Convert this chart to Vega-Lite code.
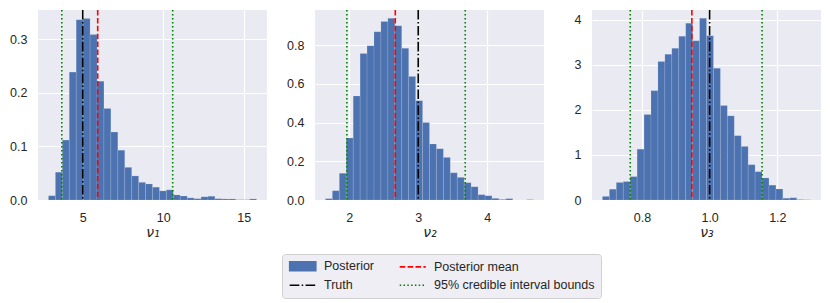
{
  "$schema": "https://vega.github.io/schema/vega-lite/v6.json",
  "padding": {"left": 8, "top": 9, "right": 4, "bottom": 4},
  "background": "white",
  "datasets": {
    "hist": [
      {"panel": 1, "lo": 2.870, "hi": 3.301, "density": 0.008},
      {"panel": 1, "lo": 3.301, "hi": 3.732, "density": 0.052},
      {"panel": 1, "lo": 3.732, "hi": 4.163, "density": 0.112},
      {"panel": 1, "lo": 4.163, "hi": 4.594, "density": 0.239},
      {"panel": 1, "lo": 4.594, "hi": 5.025, "density": 0.337},
      {"panel": 1, "lo": 5.025, "hi": 5.456, "density": 0.339},
      {"panel": 1, "lo": 5.456, "hi": 5.887, "density": 0.309},
      {"panel": 1, "lo": 5.887, "hi": 6.318, "density": 0.222},
      {"panel": 1, "lo": 6.318, "hi": 6.749, "density": 0.171},
      {"panel": 1, "lo": 6.749, "hi": 7.180, "density": 0.127},
      {"panel": 1, "lo": 7.180, "hi": 7.611, "density": 0.093},
      {"panel": 1, "lo": 7.611, "hi": 8.042, "density": 0.061},
      {"panel": 1, "lo": 8.042, "hi": 8.473, "density": 0.045},
      {"panel": 1, "lo": 8.473, "hi": 8.904, "density": 0.033},
      {"panel": 1, "lo": 8.904, "hi": 9.335, "density": 0.030},
      {"panel": 1, "lo": 9.335, "hi": 9.766, "density": 0.024},
      {"panel": 1, "lo": 9.766, "hi": 10.197, "density": 0.017},
      {"panel": 1, "lo": 10.197, "hi": 10.628, "density": 0.019},
      {"panel": 1, "lo": 10.628, "hi": 11.059, "density": 0.0095},
      {"panel": 1, "lo": 11.059, "hi": 11.490, "density": 0.0075},
      {"panel": 1, "lo": 11.490, "hi": 11.921, "density": 0.004},
      {"panel": 1, "lo": 11.921, "hi": 12.352, "density": 0.0025},
      {"panel": 1, "lo": 12.352, "hi": 12.783, "density": 0.006},
      {"panel": 1, "lo": 12.783, "hi": 13.214, "density": 0.007},
      {"panel": 1, "lo": 13.214, "hi": 13.645, "density": 0.0025},
      {"panel": 1, "lo": 13.645, "hi": 14.076, "density": 0.002},
      {"panel": 1, "lo": 14.076, "hi": 14.507, "density": 0.002},
      {"panel": 1, "lo": 14.507, "hi": 14.938, "density": 0.0005},
      {"panel": 1, "lo": 14.938, "hi": 15.369, "density": 0.0005},
      {"panel": 1, "lo": 15.369, "hi": 15.800, "density": 0.002},
      {"panel": 2, "lo": 1.657, "hi": 1.757, "density": 0.007},
      {"panel": 2, "lo": 1.757, "hi": 1.858, "density": 0.048},
      {"panel": 2, "lo": 1.858, "hi": 1.958, "density": 0.138},
      {"panel": 2, "lo": 1.958, "hi": 2.059, "density": 0.320},
      {"panel": 2, "lo": 2.059, "hi": 2.159, "density": 0.537},
      {"panel": 2, "lo": 2.159, "hi": 2.259, "density": 0.757},
      {"panel": 2, "lo": 2.259, "hi": 2.360, "density": 0.797},
      {"panel": 2, "lo": 2.360, "hi": 2.460, "density": 0.869},
      {"panel": 2, "lo": 2.460, "hi": 2.561, "density": 0.922},
      {"panel": 2, "lo": 2.561, "hi": 2.661, "density": 0.938},
      {"panel": 2, "lo": 2.661, "hi": 2.761, "density": 0.900},
      {"panel": 2, "lo": 2.761, "hi": 2.862, "density": 0.783},
      {"panel": 2, "lo": 2.862, "hi": 2.962, "density": 0.638},
      {"panel": 2, "lo": 2.962, "hi": 3.063, "density": 0.513},
      {"panel": 2, "lo": 3.063, "hi": 3.163, "density": 0.400},
      {"panel": 2, "lo": 3.163, "hi": 3.263, "density": 0.289},
      {"panel": 2, "lo": 3.263, "hi": 3.364, "density": 0.265},
      {"panel": 2, "lo": 3.364, "hi": 3.464, "density": 0.220},
      {"panel": 2, "lo": 3.464, "hi": 3.565, "density": 0.141},
      {"panel": 2, "lo": 3.565, "hi": 3.665, "density": 0.117},
      {"panel": 2, "lo": 3.665, "hi": 3.765, "density": 0.0895},
      {"panel": 2, "lo": 3.765, "hi": 3.866, "density": 0.069},
      {"panel": 2, "lo": 3.866, "hi": 3.966, "density": 0.0275},
      {"panel": 2, "lo": 3.966, "hi": 4.067, "density": 0.022},
      {"panel": 2, "lo": 4.067, "hi": 4.167, "density": 0.0086},
      {"panel": 2, "lo": 4.167, "hi": 4.267, "density": 0.003},
      {"panel": 2, "lo": 4.267, "hi": 4.368, "density": 0.007},
      {"panel": 2, "lo": 4.368, "hi": 4.468, "density": 0},
      {"panel": 2, "lo": 4.468, "hi": 4.569, "density": 0},
      {"panel": 2, "lo": 4.569, "hi": 4.669, "density": 0.002},
      {"panel": 3, "lo": 0.6833, "hi": 0.7038, "density": 0.08},
      {"panel": 3, "lo": 0.7038, "hi": 0.7243, "density": 0.24},
      {"panel": 3, "lo": 0.7243, "hi": 0.7448, "density": 0.39},
      {"panel": 3, "lo": 0.7448, "hi": 0.7653, "density": 0.41},
      {"panel": 3, "lo": 0.7653, "hi": 0.7858, "density": 0.52},
      {"panel": 3, "lo": 0.7858, "hi": 0.8063, "density": 1.13},
      {"panel": 3, "lo": 0.8063, "hi": 0.8268, "density": 1.90},
      {"panel": 3, "lo": 0.8268, "hi": 0.8473, "density": 2.43},
      {"panel": 3, "lo": 0.8473, "hi": 0.8678, "density": 3.08},
      {"panel": 3, "lo": 0.8678, "hi": 0.8883, "density": 3.24},
      {"panel": 3, "lo": 0.8883, "hi": 0.9088, "density": 3.37},
      {"panel": 3, "lo": 0.9088, "hi": 0.9293, "density": 3.64},
      {"panel": 3, "lo": 0.9293, "hi": 0.9498, "density": 3.93},
      {"panel": 3, "lo": 0.9498, "hi": 0.9703, "density": 3.54},
      {"panel": 3, "lo": 0.9703, "hi": 0.9908, "density": 4.04},
      {"panel": 3, "lo": 0.9908, "hi": 1.0113, "density": 3.65},
      {"panel": 3, "lo": 1.0113, "hi": 1.0318, "density": 2.93},
      {"panel": 3, "lo": 1.0318, "hi": 1.0523, "density": 2.10},
      {"panel": 3, "lo": 1.0523, "hi": 1.0728, "density": 1.87},
      {"panel": 3, "lo": 1.0728, "hi": 1.0933, "density": 1.43},
      {"panel": 3, "lo": 1.0933, "hi": 1.1138, "density": 1.19},
      {"panel": 3, "lo": 1.1138, "hi": 1.1343, "density": 0.785},
      {"panel": 3, "lo": 1.1343, "hi": 1.1548, "density": 0.63},
      {"panel": 3, "lo": 1.1548, "hi": 1.1753, "density": 0.49},
      {"panel": 3, "lo": 1.1753, "hi": 1.1958, "density": 0.33},
      {"panel": 3, "lo": 1.1958, "hi": 1.2163, "density": 0.245},
      {"panel": 3, "lo": 1.2163, "hi": 1.2368, "density": 0.04},
      {"panel": 3, "lo": 1.2368, "hi": 1.2573, "density": 0.05},
      {"panel": 3, "lo": 1.2573, "hi": 1.2778, "density": 0.01},
      {"panel": 3, "lo": 1.2778, "hi": 1.2983, "density": 0.005}
    ],
    "lines": [
      {"panel": 1, "series": "Posterior mean", "value": 5.93},
      {"panel": 1, "series": "Truth", "value": 5.0},
      {"panel": 1, "series": "95% credible interval bounds", "value": 3.70},
      {"panel": 1, "series": "95% credible interval bounds", "value": 10.59},
      {"panel": 2, "series": "Posterior mean", "value": 2.668},
      {"panel": 2, "series": "Truth", "value": 3.0},
      {"panel": 2, "series": "95% credible interval bounds", "value": 1.967},
      {"panel": 2, "series": "95% credible interval bounds", "value": 3.68},
      {"panel": 3, "series": "Posterior mean", "value": 0.9475},
      {"panel": 3, "series": "Truth", "value": 1.0},
      {"panel": 3, "series": "95% credible interval bounds", "value": 0.7655},
      {"panel": 3, "series": "95% credible interval bounds", "value": 1.155}
    ]
  },
  "hconcat": [
    {
      "width": 229, "height": 190,
      "layer": [
        {
          "data": {"name": "hist"},
          "transform": [{"filter": "datum.panel === 1"}],
          "mark": {"type": "rect", "stroke": "white", "strokeOpacity": 0.25, "strokeWidth": 0.5},
          "encoding": {
            "x": {"field": "lo", "type": "quantitative", "scale": {"domain": [2.22, 16.45], "nice": false, "zero": false}, "axis": {"values": [5, 10, 15], "format": "d", "title": "ν₁"}},
            "x2": {"field": "hi"},
            "y": {"field": "density", "type": "quantitative", "scale": {"domain": [0, 0.355], "nice": false}, "axis": {"values": [0, 0.1, 0.2, 0.3], "format": ".1f", "title": null}},
            "y2": {"datum": 0},
            "color": {"datum": "Posterior", "type": "nominal", "scale": {"domain": ["Posterior", "Truth", "Posterior mean", "95% credible interval bounds"], "range": ["#4c72b0", "#000000", "#ff0000", "#008000"]},
              "legend": {"title": null, "orient": "none", "legendX": 244, "legendY": 244, "columns": 2, "symbolSize": 81, "symbolOffset": 8.5, "labelOffset": 15, "labelLimit": 400,
                "encode": {"symbols": {"update": {
                  "shape": {"signal": "datum.value === 'Posterior' ? 'M-2.9,-1H2.9V1H-2.9Z' : 'M-2.9,0H2.9'"},
                  "fill": {"signal": "datum.value === 'Posterior' ? '#4c72b0' : 'transparent'"},
                  "stroke": {"signal": "datum.value === 'Posterior' ? 'transparent' : datum.value === 'Posterior mean' ? '#ff0000' : datum.value === 'Truth' ? '#000000' : '#008000'"},
                  "strokeDash": {"signal": "datum.value === 'Posterior mean' ? [5.5, 2.4] : datum.value === 'Truth' ? [9.6, 2.4, 1.5, 2.4] : datum.value === '95% credible interval bounds' ? [1.5, 2.3] : [1, 0]"},
                  "strokeWidth": {"value": 1.6},
                  "opacity": {"value": 1}
                }}}}}
          }
        },
        {
          "data": {"name": "lines"},
          "transform": [{"filter": "datum.panel === 1"}],
          "mark": {"type": "rule", "strokeWidth": 1.6},
          "encoding": {
            "x": {"field": "value", "type": "quantitative"},
            "color": {"field": "series", "type": "nominal", "scale": {"domain": ["Posterior", "Truth", "Posterior mean", "95% credible interval bounds"], "range": ["#4c72b0", "#000000", "#ff0000", "#008000"]},
              "legend": {"title": null, "orient": "none", "legendX": 244, "legendY": 244, "columns": 2, "symbolSize": 81, "symbolOffset": 8.5, "labelOffset": 15, "labelLimit": 400,
                "encode": {"symbols": {"update": {
                  "shape": {"signal": "datum.value === 'Posterior' ? 'M-2.9,-1H2.9V1H-2.9Z' : 'M-2.9,0H2.9'"},
                  "fill": {"signal": "datum.value === 'Posterior' ? '#4c72b0' : 'transparent'"},
                  "stroke": {"signal": "datum.value === 'Posterior' ? 'transparent' : datum.value === 'Posterior mean' ? '#ff0000' : datum.value === 'Truth' ? '#000000' : '#008000'"},
                  "strokeDash": {"signal": "datum.value === 'Posterior mean' ? [5.5, 2.4] : datum.value === 'Truth' ? [9.6, 2.4, 1.5, 2.4] : datum.value === '95% credible interval bounds' ? [1.5, 2.3] : [1, 0]"},
                  "strokeWidth": {"value": 1.6},
                  "opacity": {"value": 1}
                }}}}},
            "strokeDash": {"field": "series", "type": "nominal", "scale": {"domain": ["Posterior mean", "Truth", "95% credible interval bounds"], "range": [[5.5, 2.4], [9.6, 2.4, 1.5, 2.4], [1.5, 2.5]]}, "legend": null}
          }
        }
      ]
    },
    {
      "width": 229, "height": 190,
      "layer": [
        {
          "data": {"name": "hist"},
          "transform": [{"filter": "datum.panel === 2"}],
          "mark": {"type": "rect", "stroke": "white", "strokeOpacity": 0.25, "strokeWidth": 0.5},
          "encoding": {
            "x": {"field": "lo", "type": "quantitative", "scale": {"domain": [1.506, 4.82], "nice": false, "zero": false}, "axis": {"values": [2, 3, 4], "format": "d", "title": "ν₂"}},
            "x2": {"field": "hi"},
            "y": {"field": "density", "type": "quantitative", "scale": {"domain": [0, 0.981], "nice": false}, "axis": {"values": [0, 0.2, 0.4, 0.6, 0.8], "format": ".1f", "title": null}},
            "y2": {"datum": 0},
            "color": {"datum": "Posterior", "type": "nominal", "legend": null}
          }
        },
        {
          "data": {"name": "lines"},
          "transform": [{"filter": "datum.panel === 2"}],
          "mark": {"type": "rule", "strokeWidth": 1.6},
          "encoding": {
            "x": {"field": "value", "type": "quantitative"},
            "color": {"field": "series", "type": "nominal", "legend": null},
            "strokeDash": {"field": "series", "type": "nominal", "legend": null}
          }
        }
      ]
    },
    {
      "width": 229, "height": 190,
      "layer": [
        {
          "data": {"name": "hist"},
          "transform": [{"filter": "datum.panel === 3"}],
          "mark": {"type": "rect", "stroke": "white", "strokeOpacity": 0.25, "strokeWidth": 0.5},
          "encoding": {
            "x": {"field": "lo", "type": "quantitative", "scale": {"domain": [0.6525, 1.329], "nice": false, "zero": false}, "axis": {"values": [0.8, 1.0, 1.2], "format": ".1f", "title": "ν₃"}},
            "x2": {"field": "hi"},
            "y": {"field": "density", "type": "quantitative", "scale": {"domain": [0, 4.222], "nice": false}, "axis": {"values": [0, 1, 2, 3, 4], "format": "d", "title": null}},
            "y2": {"datum": 0},
            "color": {"datum": "Posterior", "type": "nominal", "legend": null}
          }
        },
        {
          "data": {"name": "lines"},
          "transform": [{"filter": "datum.panel === 3"}],
          "mark": {"type": "rule", "strokeWidth": 1.6},
          "encoding": {
            "x": {"field": "value", "type": "quantitative"},
            "color": {"field": "series", "type": "nominal", "legend": null},
            "strokeDash": {"field": "series", "type": "nominal", "legend": null}
          }
        }
      ]
    }
  ],
  "config": {
    "view": {"fill": "#EAEAF2", "stroke": null},
    "concat": {"spacing": 18},
    "axis": {
      "grid": true, "gridColor": "#ffffff", "gridWidth": 1.1, "domain": false, "ticks": false,
      "labelFont": "Liberation Sans", "labelFontSize": 12.5, "labelColor": "#262626",
      "titleFont": "DejaVu Sans", "titleFontWeight": "normal", "titleFontStyle": "italic", "titleFontSize": 14, "titleColor": "#262626"
    },
    "axisX": {"labelPadding": 11, "titlePadding": 2},
    "axisY": {"labelPadding": 11, "minExtent": 30, "maxExtent": 30},
    "legend": {
      "labelFont": "Liberation Sans", "labelFontSize": 12.5, "labelColor": "#262626",
      "columnPadding": 21, "rowPadding": 5,
      "padding": 6, "fillColor": "#EEEEF4", "strokeColor": "#d0d0d0", "cornerRadius": 3
    }
  }
}
